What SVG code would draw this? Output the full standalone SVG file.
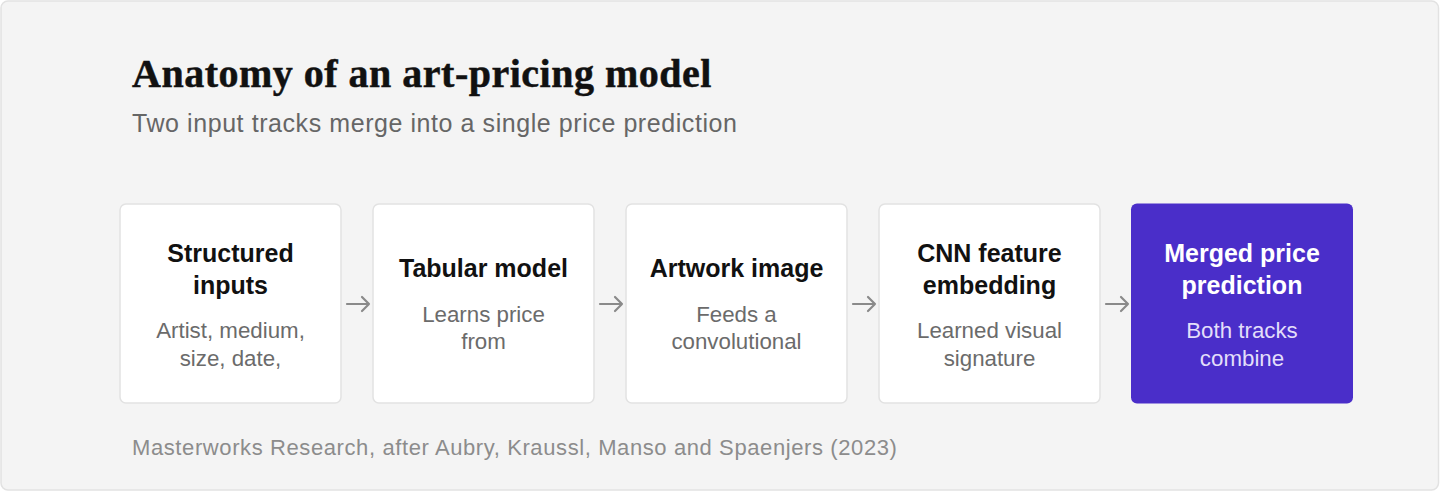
<svg xmlns="http://www.w3.org/2000/svg" width="1440" height="492" viewBox="0 0 1440 492">
<style>
.panel{fill:#f4f4f4;stroke:#e2e2e2;stroke-width:1.5}
.box{fill:#ffffff;stroke:#e2e2e2;stroke-width:1.5}
.boxhi{fill:#4a2ec9;stroke:none}
.t{font-family:"Liberation Sans",Arial,sans-serif;font-weight:bold;font-size:25px;fill:#111111;text-anchor:middle}
.d{font-family:"Liberation Sans",Arial,sans-serif;font-size:22.3px;fill:#6b6b6b;text-anchor:middle}
.thi{fill:#ffffff}
.dhi{fill:#e3defa}
.title{font-family:"Liberation Serif","Times New Roman",serif;font-weight:bold;font-size:40px;letter-spacing:0.5px;fill:#111111;stroke:#111111;stroke-width:0.5}
.sub{font-family:"Liberation Sans",Arial,sans-serif;font-size:25px;letter-spacing:0.57px;fill:#666666}
.foot{font-family:"Liberation Sans",Arial,sans-serif;font-size:22px;letter-spacing:0.6px;fill:#8c8c8c}
.arrow{fill:none;stroke:#8a8a8a;stroke-width:2.2;stroke-linecap:round;stroke-linejoin:round}
</style>
<rect class="panel" x="1" y="1" width="1437.5" height="489" rx="7"/>
<text class="title" x="132" y="87">Anatomy of an art-pricing model</text>
<text class="sub" x="132" y="132">Two input tracks merge into a single price prediction</text>

<g id="connectors">
<path class="arrow" d="M347 304 H369 M362 297 L369 304 L362 311"/>
<path class="arrow" d="M600 304 H622 M615 297 L622 304 L615 311"/>
<path class="arrow" d="M853 304 H875 M868 297 L875 304 L868 311"/>
<path class="arrow" d="M1106 304 H1128 M1121 297 L1128 304 L1121 311"/>
</g>

<g id="node-structured-inputs">
<rect class="box" x="120" y="204" width="221" height="199" rx="6"/>
<text class="t" x="230.5" y="262">Structured</text>
<text class="t" x="230.5" y="294">inputs</text>
<text class="d" x="230.5" y="338">Artist, medium,</text>
<text class="d" x="230.5" y="366">size, date,</text>
</g>

<g id="node-tabular-model">
<rect class="box" x="373" y="204" width="221" height="199" rx="6"/>
<text class="t" x="483.5" y="277">Tabular model</text>
<text class="d" x="483.5" y="322">Learns price</text>
<text class="d" x="483.5" y="349">from</text>
</g>

<g id="node-artwork-image">
<rect class="box" x="626" y="204" width="221" height="199" rx="6"/>
<text class="t" x="736.5" y="277">Artwork image</text>
<text class="d" x="736.5" y="322">Feeds a</text>
<text class="d" x="736.5" y="349">convolutional</text>
</g>

<g id="node-cnn-embedding">
<rect class="box" x="879" y="204" width="221" height="199" rx="6"/>
<text class="t" x="989.5" y="262">CNN feature</text>
<text class="t" x="989.5" y="294">embedding</text>
<text class="d" x="989.5" y="338">Learned visual</text>
<text class="d" x="989.5" y="366">signature</text>
</g>

<g id="node-merged-prediction">
<rect class="boxhi" x="1131" y="203.5" width="222" height="200" rx="6"/>
<text class="t thi" x="1242" y="262">Merged price</text>
<text class="t thi" x="1242" y="294">prediction</text>
<text class="d dhi" x="1242" y="338">Both tracks</text>
<text class="d dhi" x="1242" y="366">combine</text>
</g>

<text class="foot" x="132" y="455">Masterworks Research, after Aubry, Kraussl, Manso and Spaenjers (2023)</text>
</svg>
